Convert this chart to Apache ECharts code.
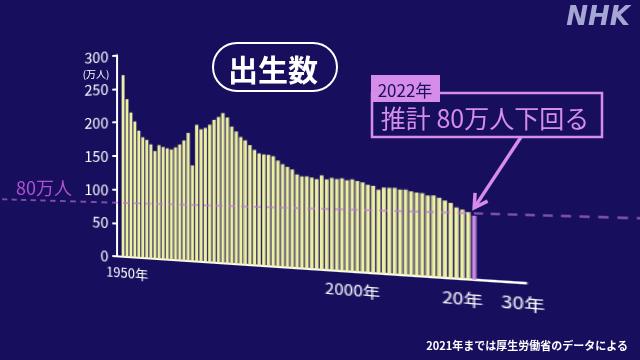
<!DOCTYPE html>
<html><head><meta charset="utf-8">
<script src="https://cdn.jsdelivr.net/npm/echarts@6/dist/echarts.min.js"></script>
<style>
html,body{margin:0;padding:0;width:640px;height:360px;overflow:hidden;background:#170F5E;}
#stage{position:absolute;left:0;top:0;width:640px;height:360px;overflow:hidden;}
#plot{position:absolute;left:-20px;top:0;width:580px;height:360px;transform-origin:20px 0px;}
#over{position:absolute;left:0;top:0;width:640px;height:360px;}
</style></head><body>
<div id="stage"><div id="plot"></div><div id="over"></div></div>
<script>
// ---- data ----
const firstCategoryYear = 1948;
const lastCategoryYear = 2030;
const dataStartYear = 1949;
// births (万人), 1949 .. 2021
const births = [
  269.7, 233.8, 213.8, 200.5, 186.8, 177.0, 173.1, 166.5, 156.7, 165.3,
  162.6, 160.6, 158.9, 161.9, 166.0, 171.7, 182.4, 136.1, 193.6, 187.2,
  189.0, 193.4, 200.1, 203.9, 209.2, 203.0, 190.1, 183.3, 175.5, 170.9,
  164.3, 157.7, 152.9, 151.5, 150.9, 149.0, 143.2, 138.3, 134.7, 131.4,
  124.7, 122.2, 122.3, 120.9, 118.8, 123.8, 118.7, 120.7, 119.2, 120.3,
  117.8, 119.1, 117.1, 115.4, 112.4, 111.1, 106.3, 109.3, 109.0, 109.1,
  107.0, 107.1, 105.1, 103.7, 103.0, 100.4, 100.6, 97.7, 94.6, 91.8,
  86.5, 84.1, 81.2
];
const estimateYear = 2022;
const estimateValue = 77;
const referenceValue = 80;
const yTickMin = 0, yTickMax = 300, yTickStep = 50;
const labelYears = [1950, 2000, 2020, 2030];
const labelTexts = ['1950年', '2000年', '20年', '30年'];

// ---- build ----
const categories = [];
for (let y = firstCategoryYear; y <= lastCategoryYear; y++) categories.push(String(y));
const seriesData = categories.map(c => {
  const y = +c;
  if (y === estimateYear) return {value: estimateValue, itemStyle: {color: '#C98BE2'}};
  const i = y - dataStartYear;
  return (i >= 0 && i < births.length) ? births[i] : '-';
});

// perspective view transform (layout only)
const OX = 20;
const M = {a1: 0.84462, a4: 9.864, b1: -0.096676, b2: 0.922291, b4: 12.278, d1: -0.00061188};
document.getElementById('plot').style.transform =
  `matrix3d(${M.a1},${M.b1},0,${M.d1},0,${M.b2},0,0,0,0,1,0,${M.a4},${M.b4},0,1)`;
function H(lx, ly) {
  const u = lx - OX;
  const W = 1 + M.d1 * u;
  return [(M.a1 * u + M.a4) / W, (M.b1 * u + M.b2 * ly + M.b4) / W];
}

const FONT = "'Noto Sans CJK JP', 'Noto Sans', sans-serif";
const catW = 3.919;
const chart = echarts.init(document.getElementById('plot'), null, {renderer: 'svg'});
chart.setOption({
  animation: false,
  backgroundColor: 'transparent',
  textStyle: {fontFamily: FONT},
  grid: {left: OX + 117.2, top: 54.5, width: catW * categories.length, height: 202.5},
  xAxis: {
    type: 'category', data: categories, boundaryGap: true,
    axisLine: {lineStyle: {color: '#ffffff', width: 2}},
    axisTick: {alignWithLabel: true, length: 5, lineStyle: {color: '#ffffff', width: 2},
      interval: (i, v) => (+v) % 10 === 0},
    axisLabel: {interval: (i, v) => labelYears.includes(+v),
      formatter: v => { const k = labelYears.indexOf(+v); return k >= 0 ? labelTexts[k] : ''; },
      color: '#ffffff', fontSize: 13, margin: 9, fontFamily: FONT}
  },
  yAxis: {
    type: 'value', min: yTickMin, max: yTickMax, interval: yTickStep,
    axisLine: {show: true, lineStyle: {color: '#ffffff', width: 2}},
    axisTick: {show: true, length: 5, lineStyle: {color: '#ffffff', width: 2}},
    axisLabel: {color: '#ffffff', fontSize: 15, margin: 9, fontFamily: FONT},
    splitLine: {show: false}
  },
  series: [{type: 'bar', data: seriesData, barWidth: '74%', itemStyle: {color: '#EEF0A2'}}]
});
const y80 = chart.convertToPixel({yAxisIndex: 0}, referenceValue);
chart.setOption({graphic: [{type: 'line', z: 100,
  shape: {x1: 0, y1: y80, x2: 580, y2: y80},
  style: {stroke: 'rgba(190,120,220,0.8)', lineWidth: 1.5, lineDash: [6, 5]}}]});

// arrow target: top of estimate bar, through the scales, then into view space
const tp = chart.convertToPixel({gridIndex: 0}, [String(estimateYear), estimateValue]);
const tip0 = H(tp[0], tp[1]);
const tip = [tip0[0], tip0[1] - 8];
const start = [521, 137];
const dx = start[0] - tip[0], dy = start[1] - tip[1];
const len = Math.hypot(dx, dy), ux = dx / len, uy = dy / len;
const ah = 15, ang = Math.PI / 6;
const rot = a => [tip[0] + ah * (ux * Math.cos(a) - uy * Math.sin(a)), tip[1] + ah * (ux * Math.sin(a) + uy * Math.cos(a))];
const armL = rot(ang), armR = rot(-ang);

const PINK = '#D68CE9';
const over = echarts.init(document.getElementById('over'), null, {renderer: 'svg'});
over.setOption({
  animation: false,
  graphic: [
    {type: 'rect', shape: {x: 213, y: 43, width: 124, height: 48, r: 24},
      style: {fill: 'none', stroke: '#ffffff', lineWidth: 2}},
    {type: 'text', x: 273, y: 68, style: {text: '出生数', fill: '#ffffff',
      font: `bold 30px ${FONT}`, align: 'center', verticalAlign: 'middle'}},
    {type: 'text', x: 96, y: 73, style: {text: '(万人)', fill: '#ffffff',
      font: `10px ${FONT}`, align: 'center', verticalAlign: 'middle'}},
    {type: 'text', x: 44, y: 187, style: {text: '80万人', fill: '#B24FD4',
      font: `18px ${FONT}`, align: 'center', verticalAlign: 'middle'}},
    {type: 'rect', shape: {x: 372, y: 93, width: 230, height: 44},
      style: {fill: 'none', stroke: PINK, lineWidth: 2.5}},
    {type: 'rect', shape: {x: 371, y: 75, width: 69, height: 27},
      style: {fill: PINK}},
    {type: 'text', x: 405, y: 89, style: {text: '2022年', fill: '#1A1060',
      font: `17px ${FONT}`, align: 'center', verticalAlign: 'middle'}},
    {type: 'text', x: 485, y: 117, style: {text: '推計 80万人下回る', fill: PINK,
      font: `25px ${FONT}`, align: 'center', verticalAlign: 'middle'}},
    {type: 'polyline', shape: {points: [start, tip]},
      style: {stroke: PINK, lineWidth: 3.5, fill: null}},
    {type: 'polyline', shape: {points: [armL, tip, armR]},
      style: {stroke: PINK, lineWidth: 3.5, fill: null, lineJoin: 'miter'}},
    {type: 'text', x: 628, y: 345, style: {text: '2021年までは厚生労働省のデータによる', fill: '#ffffff',
      font: `bold 11px ${FONT}`, align: 'right', verticalAlign: 'middle'}},
    {type: 'text', x: 630, y: 16, style: {text: 'NHK', fill: '#A6A6D4',
      font: `italic bold 26px 'DejaVu Sans', sans-serif`, align: 'right', verticalAlign: 'middle'}}
  ]
});
</script>
</body></html>
